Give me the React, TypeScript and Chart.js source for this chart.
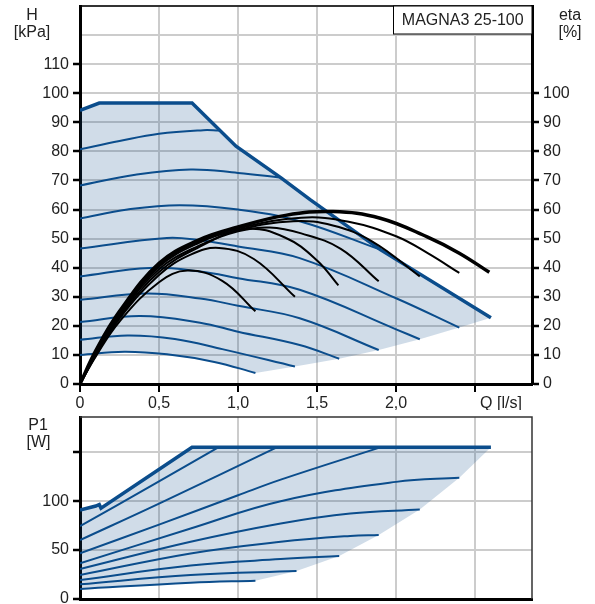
import React, { useEffect, useRef } from "react";
import { Chart, registerables } from "chart.js";

Chart.register(...registerables);

type Pt = [number, number];

// ---------- axis / text data ----------
const Q_MAX = 2.86;
const Q_TICK_LABELS = ["0", "0,5", "1,0", "1,5", "2,0", ""];
const H_MAX = 130;
const H_TICK_LABELS = ["0", "10", "20", "30", "40", "50", "60", "70", "80", "90", "100", "110", "", ""];
const ETA_TICK_LABELS = ["0", "10", "20", "30", "40", "50", "60", "70", "80", "90", "100", "", "", ""];
const P_MAX = 186;
const P_TICK_LABELS = ["0", "50", "100", ""];
const H_TITLE = ["H", "[kPa]"];
const ETA_TITLE = ["eta", "[%]"];
const P_TITLE = ["P1", "[W]"];
const Q_TITLE = "Q [l/s]";
const PUMP_NAME = "MAGNA3 25-100";

// ---------- head curves H(Q) [kPa] ----------
const hMax: Pt[] = [[0, 94.1], [0.122, 96.6], [0.709, 96.6], [0.987, 81.8], [1.27, 71], [1.456, 63.4], [1.9, 46.2], [2.6, 22.8]];
const hI: Pt[] = [[0, 80.7], [0.25, 83.6], [0.5, 86.1], [0.78, 87.3], [0.88, 87.2]];
const hH: Pt[] = [[0, 68.3], [0.35, 72], [0.7, 73.8], [1.0, 72.6], [1.27, 71]];
const hG: Pt[] = [[0, 56.9], [0.3, 60], [0.63, 61.5], [1.0, 60], [1.39, 56], [1.9, 46.2]];
const hF: Pt[] = [[0, 46.6], [0.55, 50.2], [0.76, 49.4], [1.0, 47.3], [1.39, 43.3], [2.0, 29.5], [2.4, 19.4]];
const hE: Pt[] = [[0, 37], [0.44, 39.9], [0.76, 38.7], [1.0, 36.4], [1.39, 32.4], [2.0, 18.8], [2.15, 15.4]];
const hD: Pt[] = [[0, 29], [0.42, 31.1], [0.76, 29.4], [1.0, 26.9], [1.39, 22.6], [1.89, 11.7]];
const hC: Pt[] = [[0, 21.3], [0.38, 23.4], [0.76, 21.1], [1.0, 18], [1.39, 13.4], [1.64, 8.7]];
const hB: Pt[] = [[0, 15.2], [0.3, 16.7], [0.6, 15.5], [0.9, 12], [1.36, 6.0]];
const hA: Pt[] = [[0, 10], [0.28, 11.1], [0.55, 10.2], [0.85, 7.6], [1.11, 3.8]];

// ---------- efficiency curves eta(Q) [%] ----------
const etaMax: Pt[] = [[0, 0], [0.1, 11.5], [0.25, 25], [0.5, 41.5], [0.75, 49.5], [1.0, 54], [1.3, 58], [1.6, 59.3], [1.9, 57], [2.2, 50.5], [2.4, 45], [2.59, 38.4]];
const etaF: Pt[] = [[0, 0], [0.1, 11], [0.25, 24.5], [0.5, 40.8], [0.75, 49], [1.0, 53.5], [1.4, 57.2], [1.7, 55.8], [2.0, 50.8], [2.2, 45], [2.4, 38.2]];
const etaE: Pt[] = [[0, 0], [0.1, 10.5], [0.25, 24], [0.5, 40.3], [0.75, 48.5], [1.0, 53], [1.35, 56], [1.6, 54.5], [1.85, 49], [2.15, 37]];
const etaD: Pt[] = [[0, 0], [0.1, 10.3], [0.25, 23.5], [0.5, 39.5], [0.75, 47.5], [1.0, 52.5], [1.2, 53.8], [1.4, 51.8], [1.65, 46.5], [1.89, 35.3]];
const etaC: Pt[] = [[0, 0], [0.1, 10], [0.25, 23], [0.5, 38.5], [0.75, 47], [1.05, 53.3], [1.3, 50.3], [1.5, 42.5], [1.635, 33.9]];
const etaB: Pt[] = [[0, 0], [0.1, 9.8], [0.25, 22.5], [0.5, 37.5], [0.7, 44.5], [0.88, 46.8], [1.1, 43], [1.36, 30]];
const etaA: Pt[] = [[0, 0], [0.1, 9.5], [0.25, 21.5], [0.5, 35], [0.68, 39], [0.9, 35.5], [1.11, 25]];

// ---------- power curves P1(Q) [W] ----------
const pMax: Pt[] = [[0, 90.8], [0.1, 95], [0.122, 96.6], [0.133, 92.8], [0.709, 155], [2.6, 155]];
const pI: Pt[] = [[0, 74.5], [0.45, 115.5], [0.875, 155]];
const pH: Pt[] = [[0, 60.2], [0.5, 97.5], [1.245, 155]];
const pG: Pt[] = [[0, 46.6], [0.5, 76], [1.0, 106], [1.27, 122], [1.9, 155]];
const pF: Pt[] = [[0, 36.4], [0.7, 72.1], [1.27, 100], [2.0, 119.7], [2.4, 124]];
const pE: Pt[] = [[0, 30.6], [0.7, 58.5], [1.27, 77.2], [1.71, 87.4], [2.15, 91.5]];
const pD: Pt[] = [[0, 24.5], [0.7, 46.6], [1.27, 58.5], [1.71, 64.5], [1.89, 65.5]];
const pC: Pt[] = [[0, 19.4], [0.7, 34.2], [1.27, 40.8], [1.64, 43.9]];
const pB: Pt[] = [[0, 15], [0.7, 24.5], [1.37, 28.6]];
const pA: Pt[] = [[0, 10.2], [0.7, 16.6], [1.11, 18.7]];

// ---------- styles ----------
const FONT = '16px "Liberation Sans", Arial, sans-serif';
const TEXT = "#222222";
const BLUE = "#0b4d8c";
const FILL = "rgba(20,80,140,0.2)";
const GRID = "#cccccc";
const TRANSPARENT = "rgba(0,0,0,0)";

const last = (c: Pt[]) => c[c.length - 1];
const xy = (c: Pt[]) => c.map(([x, y]) => ({ x, y }));

function curve(c: Pt[], color: string, width: number, smooth = true): any {
  return {
    data: xy(c),
    borderColor: color,
    borderWidth: width,
    pointRadius: 0,
    fill: false,
    tension: smooth ? 0.4 : 0,
    cubicInterpolationMode: "default",
  };
}

function area(c: Pt[]): any {
  return {
    data: xy(c),
    borderColor: TRANSPARENT,
    borderWidth: 1,
    backgroundColor: FILL,
    fill: "shape",
    pointRadius: 0,
    tension: 0,
  };
}

function drawText(ctx: CanvasRenderingContext2D, t: string, x: number, y: number) {
  ctx.fillText(t, x, y);
}

const topDecor = {
  id: "topDecor",
  afterDraw(chart: any) {
    const { ctx, chartArea: a } = chart;
    ctx.save();
    ctx.strokeStyle = "#000";
    ctx.lineWidth = 1.5;
    ctx.beginPath();
    ctx.moveTo(a.left, a.top);
    ctx.lineTo(a.right, a.top);
    ctx.stroke();
    const bx = 393.5;
    ctx.fillStyle = "#fff";
    ctx.fillRect(bx, a.top, a.right - bx, 28);
    ctx.lineWidth = 1;
    ctx.strokeRect(bx, a.top, a.right - bx, 28);
    ctx.fillStyle = TEXT;
    ctx.font = FONT;
    ctx.textAlign = "center";
    ctx.textBaseline = "middle";
    drawText(ctx, PUMP_NAME, (bx + a.right) / 2, a.top + 14.5);
    drawText(ctx, H_TITLE[0], 32, 16);
    drawText(ctx, H_TITLE[1], 32, 33);
    drawText(ctx, ETA_TITLE[0], 570, 16);
    drawText(ctx, ETA_TITLE[1], 570, 33);
    drawText(ctx, Q_TITLE, 501, 404);
    ctx.restore();
  },
};

const bottomDecor = {
  id: "bottomDecor",
  afterDraw(chart: any) {
    const { ctx, chartArea: a } = chart;
    ctx.save();
    ctx.strokeStyle = "#333";
    ctx.lineWidth = 1.5;
    ctx.beginPath();
    ctx.moveTo(a.left, a.top);
    ctx.lineTo(a.right, a.top);
    ctx.lineTo(a.right, a.bottom);
    ctx.stroke();
    ctx.fillStyle = TEXT;
    ctx.font = FONT;
    ctx.textAlign = "center";
    ctx.textBaseline = "middle";
    drawText(ctx, P_TITLE[0], 38, 16);
    drawText(ctx, P_TITLE[1], 38.5, 33);
    ctx.restore();
  },
};

const tickFont = { family: '"Liberation Sans", Arial, sans-serif', size: 16 };

function qAxis(showLabels: boolean, height: number): any {
  return {
    type: "linear",
    min: 0,
    max: Q_MAX,
    ticks: {
      stepSize: 0.5,
      includeBounds: false,
      display: showLabels,
      font: tickFont,
      color: TEXT,
      padding: 2,
      maxRotation: 0,
      autoSkip: false,
      callback: (v: number) => Q_TICK_LABELS[Math.round(v * 2)] ?? "",
    },
    grid: {
      color: GRID,
      lineWidth: 2,
      drawTicks: showLabels,
      tickColor: "#000",
      tickLength: 8,
      tickWidth: 2,
    },
    border: { color: "#000", width: 3 },
    afterFit: (s: any) => {
      s.height = height;
      s.paddingLeft = 0;
      s.paddingRight = 0;
    },
  };
}

function valueAxis(max: number, step: number, labels: string[], position: string, width: number, onArea: boolean, hideEmptyTick: boolean): any {
  return {
    type: "linear",
    position,
    min: 0,
    max,
    ticks: {
      stepSize: step,
      includeBounds: false,
      font: tickFont,
      color: TEXT,
      padding: 4,
      autoSkip: false,
      callback: (v: number) => labels[Math.round(v / step)] ?? "",
    },
    grid: {
      color: GRID,
      lineWidth: 2,
      drawOnChartArea: onArea,
      tickColor: (ctx: any) => {
        const t = ctx.tick;
        if (!hideEmptyTick || !t) return "#000";
        return (labels[Math.round(t.value / step)] ?? "") === "" ? TRANSPARENT : "#000";
      },
      tickLength: 7,
      tickWidth: 2.5,
    },
    border: { color: "#000", width: 3 },
    afterFit: (s: any) => {
      s.width = width;
      s.paddingTop = 0;
      s.paddingBottom = 0;
    },
  };
}

export default function App() {
  const topRef = useRef<HTMLCanvasElement | null>(null);
  const botRef = useRef<HTMLCanvasElement | null>(null);

  useEffect(() => {
    const hSpeed = [hI, hH, hG, hF, hE, hD, hC, hB, hA];
    const hEdge: Pt[] = [hF, hE, hD, hC, hB].map(last);
    const hArea: Pt[] = [...hMax, ...hEdge, ...[...hA].reverse()];
    const etaThin = [etaF, etaE, etaD, etaC, etaB, etaA];

    const top = new Chart(topRef.current as HTMLCanvasElement, {
      type: "line",
      data: {
        datasets: [
          curve(etaMax, "#000", 3.5),
          ...etaThin.map((c) => curve(c, "#000", 2)),
          curve(hMax, BLUE, 3.5, false),
          ...hSpeed.map((c) => curve(c, BLUE, 2)),
          area(hArea),
        ],
      },
      options: {
        animation: false,
        responsive: false,
        maintainAspectRatio: false,
        events: [],
        layout: { padding: { top: 6, left: 0, right: 0, bottom: 0 } },
        plugins: { legend: { display: false }, tooltip: { enabled: false } },
        scales: {
          x: qAxis(true, 26),
          y: valueAxis(H_MAX, 10, H_TICK_LABELS, "left", 80, true, true),
          y2: valueAxis(H_MAX, 10, ETA_TICK_LABELS, "right", 63, false, true),
        },
      } as any,
      plugins: [topDecor],
    } as any);

    const pSpeed = [pI, pH, pG, pF, pE, pD, pC, pB, pA];
    const pEdge: Pt[] = [pF, pE, pD, pC, pB].map(last);
    const pArea: Pt[] = [...pMax, ...pEdge, ...[...pA].reverse()];

    const bottom = new Chart(botRef.current as HTMLCanvasElement, {
      type: "line",
      data: {
        datasets: [
          curve(pMax, BLUE, 3.5, false),
          ...pSpeed.map((c) => curve(c, BLUE, 2)),
          area(pArea),
        ],
      },
      options: {
        animation: false,
        responsive: false,
        maintainAspectRatio: false,
        events: [],
        layout: { padding: { top: 7, left: 0, right: 63, bottom: 0 } },
        plugins: { legend: { display: false }, tooltip: { enabled: false } },
        scales: {
          x: qAxis(false, 5),
          y: valueAxis(P_MAX, 50, P_TICK_LABELS, "left", 80, true, false),
        },
      } as any,
      plugins: [bottomDecor],
    } as any);

    return () => {
      top.destroy();
      bottom.destroy();
    };
  }, []);

  return (
    <div style={{ position: "absolute", left: 0, top: 0, width: 595, height: 604, background: "#fff", overflow: "hidden" }}>
      <canvas ref={topRef} width={595} height={410} style={{ position: "absolute", left: 0, top: 0, display: "block" }} />
      <canvas ref={botRef} width={595} height={194} style={{ position: "absolute", left: 0, top: 410, display: "block" }} />
    </div>
  );
}
